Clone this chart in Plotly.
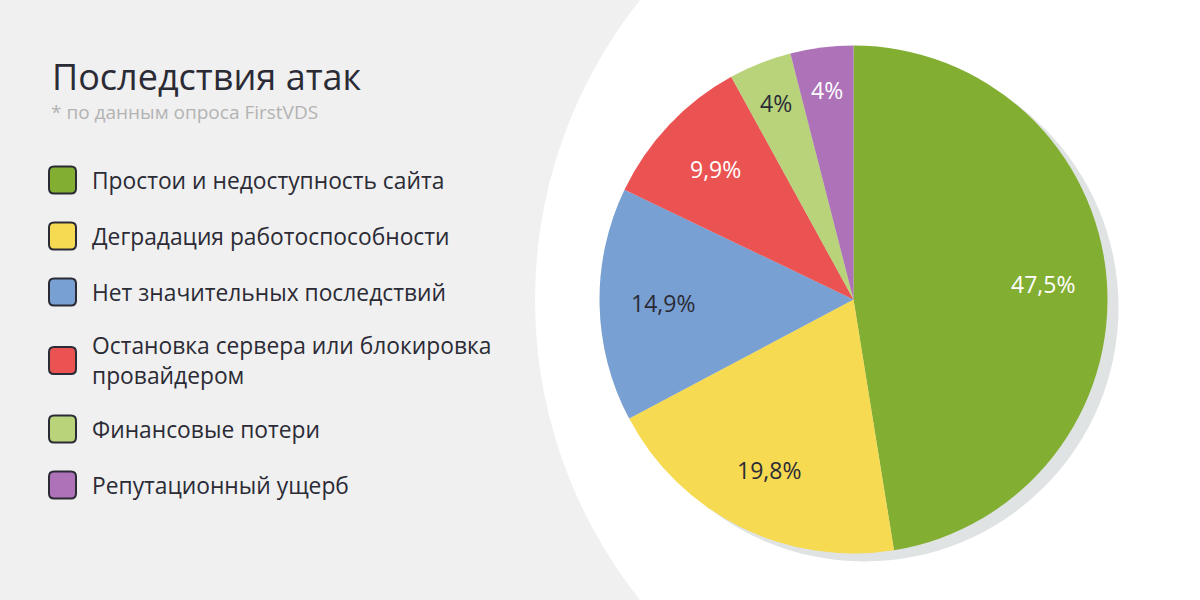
import math
import plotly.graph_objects as go

# ---- data ----
categories = [
    "Простои и недоступность сайта",
    "Деградация работоспособности",
    "Нет значительных последствий",
    "Остановка сервера или блокировка<br>провайдером",
    "Финансовые потери",
    "Репутационный ущерб",
]
values = [47.5, 19.8, 14.9, 9.9, 4, 4]
value_labels = ["47,5%", "19,8%", "14,9%", "9,9%", "4%", "4%"]

# ---- style ----
colors = ["#82ae32", "#f6da52", "#78a0d2", "#eb5353", "#b8d37a", "#ad72b8"]
label_colors = ["#ffffff", "#2b2b36", "#2b2b36", "#ffffff", "#2b2b36", "#ffffff"]
TEXT = "#2b2b36"
W, H = 1200, 600


def X(px):
    return px / W


def Y(py):
    return 1 - py / H


cx, cy, R = 853.5, 299.5, 254

fig = go.Figure()
fig.add_trace(go.Pie(
    values=values,
    labels=[c.replace("<br>", " ") for c in categories],
    text=value_labels,
    textinfo="none",
    marker=dict(colors=colors, line=dict(width=0)),
    sort=False,
    direction="clockwise",
    rotation=0,
    showlegend=False,
    hoverinfo="label+text",
    domain=dict(x=[X(cx - R), X(cx + R)], y=[Y(cy + R), Y(cy - R)]),
))

shapes = []
# white background circle
bcx, bcy, bR = 1016, 300, 481
shapes.append(dict(type="circle", xref="paper", yref="paper", layer="below",
                   x0=X(bcx - bR), x1=X(bcx + bR), y0=Y(bcy + bR), y1=Y(bcy - bR),
                   fillcolor="#ffffff", line=dict(width=0)))
# pie shadow
sdx, sdy = 11, 8
shapes.append(dict(type="circle", xref="paper", yref="paper", layer="below",
                   x0=X(cx - R + sdx), x1=X(cx + R + sdx),
                   y0=Y(cy + R + sdy), y1=Y(cy - R + sdy),
                   fillcolor="#dfe3e3", line=dict(width=0)))

annotations = [
    dict(text="Последствия атак", x=X(50), y=Y(76), xref="paper", yref="paper",
         xanchor="left", yanchor="middle", showarrow=False,
         font=dict(family="Open Sans", size=36, color=TEXT)),
    dict(text="* по данным опроса FirstVDS", x=X(49), y=Y(112), xref="paper", yref="paper",
         xanchor="left", yanchor="middle", showarrow=False,
         font=dict(family="Open Sans", size=19, color="#b3b3b3")),
]

# slice value labels, placed along each slice's mid-angle
total = sum(values)
cum = 0.0
for v, lab, col in zip(values, value_labels, label_colors):
    frac = v / total
    theta = 2 * math.pi * (cum + v / 2) / total
    cum += v
    # small slices get their label pushed a bit further out
    label_r = (0.75 + (0.08 if frac < 0.06 else 0.0)) * R
    lx = cx + label_r * math.sin(theta)
    ly = cy - label_r * math.cos(theta)
    annotations.append(dict(text=lab, x=X(lx), y=Y(ly), xref="paper", yref="paper",
                            xanchor="center", yanchor="middle", showarrow=False,
                            font=dict(family="Open Sans", size=23, color=col)))

# custom legend
y = 180
prev_lines = 1
for i, (lab, col) in enumerate(zip(categories, colors)):
    lines = lab.count("<br>") + 1
    if i > 0:
        y += 56 + 12.5 * (prev_lines - 1) + 12.5 * (lines - 1)
    prev_lines = lines
    x0, x1 = 49, 76
    y0, y1 = y - 13.5, y + 13.5
    r = 5
    path = (f"M {X(x0 + r)},{Y(y0)} L {X(x1 - r)},{Y(y0)} Q {X(x1)},{Y(y0)} {X(x1)},{Y(y0 + r)} "
            f"L {X(x1)},{Y(y1 - r)} Q {X(x1)},{Y(y1)} {X(x1 - r)},{Y(y1)} "
            f"L {X(x0 + r)},{Y(y1)} Q {X(x0)},{Y(y1)} {X(x0)},{Y(y1 - r)} "
            f"L {X(x0)},{Y(y0 + r)} Q {X(x0)},{Y(y0)} {X(x0 + r)},{Y(y0)} Z")
    shapes.append(dict(type="path", xref="paper", yref="paper", path=path,
                       fillcolor=col, line=dict(color=TEXT, width=2)))
    annotations.append(dict(text=lab, x=X(90), y=Y(y), xref="paper", yref="paper",
                            xanchor="left", yanchor="middle", align="left", showarrow=False,
                            font=dict(family="Open Sans", size=22.8, color=TEXT)))

fig.update_layout(
    width=W, height=H,
    margin=dict(l=0, r=0, t=0, b=0),
    paper_bgcolor="#f0f0f0",
    plot_bgcolor="#f0f0f0",
    shapes=shapes,
    annotations=annotations,
)

fig.write_html("out.html", config={"displayModeBar": False},
               post_script="document.body.style.margin='0';")
